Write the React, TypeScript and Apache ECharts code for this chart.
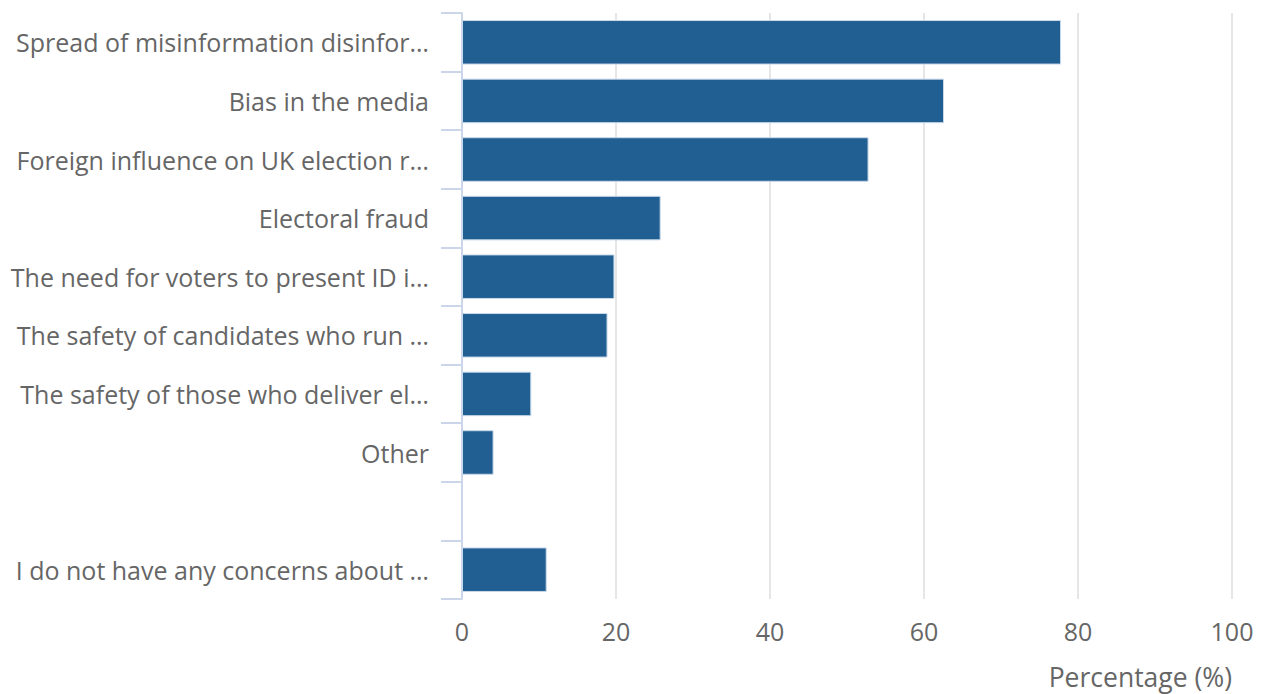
import React, { useEffect, useRef } from "react";
import * as echarts from "echarts";

const categories = [
  "Spread of misinformation disinfor…",
  "Bias in the media",
  "Foreign influence on UK election r…",
  "Electoral fraud",
  "The need for voters to present ID i…",
  "The safety of candidates who run …",
  "The safety of those who deliver el…",
  "Other",
  "",
  "I do not have any concerns about …",
];

const values: (number | null)[] = [77.8, 62.6, 52.8, 25.8, 19.8, 18.9, 9.0, 4.1, null, 11.0];

const xTicks = { min: 0, max: 100, interval: 20 };
const xAxisName = "Percentage (%)";

const FONT = "'Open Sans', sans-serif";

export default function App() {
  const ref = useRef<HTMLDivElement>(null);
  useEffect(() => {
    if (!ref.current) return;
    const chart = echarts.init(ref.current, undefined, { renderer: "svg" });
    chart.setOption({
      animation: false,
      grid: { left: 462, right: 29, top: 13, bottom: 95, containLabel: false },
      xAxis: {
        type: "value",
        min: xTicks.min,
        max: xTicks.max,
        interval: xTicks.interval,
        axisLine: { show: false },
        axisTick: { show: false },
        splitLine: { show: true, lineStyle: { color: "#e6e6e6", width: 2 } },
        axisLabel: { color: "#666666", fontSize: 25, fontFamily: FONT, margin: 19 },
        name: xAxisName,
        nameLocation: "end",
        nameGap: 0,
        nameTextStyle: {
          color: "#666666",
          fontSize: 26.5,
          fontFamily: FONT,
          align: "right",
          verticalAlign: "top",
          padding: [64, 0, 0, 0],
        },
      },
      yAxis: {
        type: "category",
        inverse: true,
        data: categories,
        axisLine: { show: true, lineStyle: { color: "#ccd6eb", width: 2 } },
        axisTick: { show: true, length: 21, lineStyle: { color: "#ccd6eb", width: 2 } },
        splitLine: { show: false },
        axisLabel: { color: "#666666", fontSize: 25, fontFamily: FONT, margin: 33 },
      },
      series: [
        {
          type: "bar",
          data: values,
          barCategoryGap: "24%",
          itemStyle: { color: "#215f92", borderColor: "#c9d9ea", borderWidth: 1 },
        },
      ],
    });
    return () => chart.dispose();
  }, []);
  return (
    <div
      ref={ref}
      style={{ position: "fixed", left: 0, top: 0, width: 1261, height: 694, background: "#fff" }}
    />
  );
}
